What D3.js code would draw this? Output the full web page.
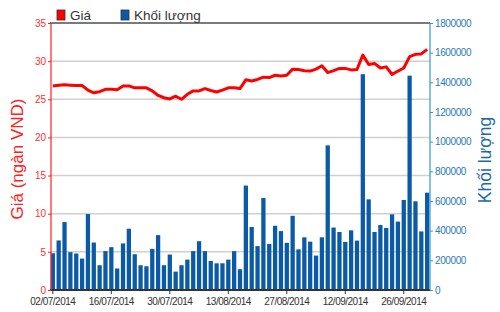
<!DOCTYPE html>
<html lang="vi">
<head>
<meta charset="utf-8">
<script src="https://cdn.jsdelivr.net/npm/d3@7"></script>
<style>
    body { margin: 0; background: #fff; }
    text { font-family: Arial, "Liberation Sans", sans-serif; }
</style>
</head>
<body>
<script>
    // trading days shown on the chart
    const dates = [
        "02/07/2014","03/07/2014","04/07/2014","07/07/2014","08/07/2014","09/07/2014","10/07/2014","11/07/2014","14/07/2014","15/07/2014",
        "16/07/2014","17/07/2014","18/07/2014","21/07/2014","22/07/2014","23/07/2014","24/07/2014","25/07/2014","28/07/2014","29/07/2014",
        "30/07/2014","31/07/2014","01/08/2014","04/08/2014","05/08/2014","06/08/2014","07/08/2014","08/08/2014","11/08/2014","12/08/2014",
        "13/08/2014","14/08/2014","15/08/2014","18/08/2014","19/08/2014","20/08/2014","21/08/2014","22/08/2014","25/08/2014","26/08/2014",
        "27/08/2014","28/08/2014","29/08/2014","03/09/2014","04/09/2014","05/09/2014","08/09/2014","09/09/2014","10/09/2014","11/09/2014",
        "12/09/2014","15/09/2014","16/09/2014","17/09/2014","18/09/2014","19/09/2014","22/09/2014","23/09/2014","24/09/2014","25/09/2014",
        "26/09/2014","29/09/2014","30/09/2014","01/10/2014","02/10/2014"
    ];

    // price, thousand VND
    const price = [
        26.75, 26.85, 26.9, 26.85, 26.8, 26.8, 26.2, 25.85, 26.0, 26.3,
        26.3, 26.25, 26.75, 26.75, 26.5, 26.5, 26.5, 26.1, 25.5, 25.2,
        25.05, 25.4, 25.0, 25.65, 26.1, 26.1, 26.4, 26.15, 25.95, 26.2,
        26.5, 26.5, 26.4, 27.55, 27.4, 27.6, 27.9, 27.85, 28.15, 28.05,
        28.15, 28.95, 28.9, 28.75, 28.7, 28.95, 29.4, 28.5, 28.75, 29.05,
        29.05, 28.85, 28.9, 30.8, 29.55, 29.7, 29.1, 29.25, 28.25, 28.7,
        29.1, 30.6, 30.9, 30.95, 31.55
    ];

    // traded volume
    const volume = [
        248000, 334000, 458000, 255000, 246000, 212000, 512000, 320000, 167000, 262000,
        289000, 145000, 314000, 413000, 241000, 167000, 160000, 277000, 370000, 167000,
        239000, 124000, 167000, 205000, 262000, 329000, 262000, 196000, 180000, 180000,
        205000, 262000, 140000, 704000, 425000, 296000, 620000, 310000, 433000, 397000,
        318000, 500000, 274000, 355000, 326000, 232000, 355000, 975000, 421000, 391000,
        324000, 402000, 333000, 1455000, 611000, 391000, 438000, 418000, 510000, 461000,
        607000, 1445000, 598000, 395000, 656000
    ];

    const priceTicks = [0, 5, 10, 15, 20, 25, 30, 35];
    const volumeTicks = [0, 200000, 400000, 600000, 800000, 1000000, 1200000, 1400000, 1600000, 1800000];
    const dateTicks = ["02/07/2014", "16/07/2014", "30/07/2014", "13/08/2014", "27/08/2014", "12/09/2014", "26/09/2014"];

    const w = 500, h = 312;
    const padL = 50, padR = 430, padT = 23, padB = 290;

    const svg = d3.select("body").append("svg")
        .attr("width", w)
        .attr("height", h);

    const x = d3.scaleBand().domain(dates).range([padL, padR]).paddingInner(0.27).paddingOuter(0.12);
    const yP = d3.scaleLinear().domain([0, 35]).range([padB, padT]);
    const yV = d3.scaleLinear().domain([0, 1800000]).range([padB, padT]);

    // grid
    svg.append("g")
        .selectAll("line")
        .data(priceTicks.filter(d => d > 0 && d < 35))
        .enter().append("line")
        .attr("x1", padL).attr("x2", padR)
        .attr("y1", d => yP(d)).attr("y2", d => yP(d))
        .attr("stroke", "#d0d0d0").attr("stroke-width", 1.5);

    // top border
    svg.append("line")
        .attr("x1", padL).attr("x2", padR)
        .attr("y1", padT).attr("y2", padT)
        .attr("stroke", "#7a7a7a").attr("stroke-width", 2);

    // volume bars
    svg.append("g")
        .selectAll("rect")
        .data(volume)
        .enter().append("rect")
        .attr("x", (d, i) => x(dates[i]))
        .attr("y", d => yV(d))
        .attr("width", x.bandwidth())
        .attr("height", d => padB - yV(d))
        .attr("fill", "#0a5aa8");

    // price line
    const line = d3.line()
        .x((d, i) => x(dates[i]) + x.bandwidth() / 2)
        .y(d => yP(d));

    svg.append("path")
        .datum(price)
        .attr("d", line)
        .attr("fill", "none")
        .attr("stroke", "#ff0000")
        .attr("stroke-width", 3)
        .attr("stroke-linejoin", "round");

    // x axis
    const xAxis = d3.axisBottom(x).tickValues(dateTicks).tickSize(4).tickPadding(4);
    const gx = svg.append("g")
        .attr("transform", "translate(0," + padB + ")")
        .call(xAxis);
    gx.select(".domain").attr("stroke", "#333").attr("stroke-width", 2).attr("d", "M" + padL + ",0H" + padR);
    gx.selectAll(".tick line").attr("stroke", "#333");
    gx.selectAll("text")
        .attr("fill", "#333")
        .style("font-size", "10px")
        .style("letter-spacing", "-0.5px");

    // left axis
    const gl = svg.append("g")
        .attr("transform", "translate(" + (padL + 1) + ",0)")
        .call(d3.axisLeft(yP).tickValues(priceTicks).tickSize(3).tickPadding(2));
    gl.select(".domain").attr("stroke", "#ff2020").attr("stroke-width", 1.2).attr("d", "M0," + padT + "V" + padB);
    gl.selectAll(".tick line").attr("stroke", "#ff2020");
    gl.selectAll("text").attr("fill", "#ff3030").style("font-size", "10px");

    // right axis
    const gr = svg.append("g")
        .attr("transform", "translate(" + padR + ",0)")
        .call(d3.axisRight(yV).tickValues(volumeTicks).tickFormat(d3.format("d")).tickSize(3).tickPadding(2));
    gr.select(".domain").attr("stroke", "#3a95c8").attr("stroke-width", 1.2).attr("d", "M0," + padT + "V" + padB);
    gr.selectAll(".tick line").attr("stroke", "#3a95c8");
    gr.selectAll("text")
        .attr("fill", "#2a7ab8")
        .style("font-size", "10px")
        .style("letter-spacing", "-0.4px");

    // axis titles
    svg.append("text")
        .attr("transform", "translate(23,159) rotate(-90)")
        .attr("text-anchor", "middle")
        .attr("fill", "#ff2020")
        .style("font-size", "17px")
        .text("Giá (ngàn VND)");

    svg.append("text")
        .attr("transform", "translate(491,160) rotate(-90)")
        .attr("text-anchor", "middle")
        .attr("fill", "#1a6aa8")
        .style("font-size", "17.5px")
        .text("Khối lượng");

    // legend
    const legend = [
        { name: "Giá", color: "#ff0000", x: 57 },
        { name: "Khối lượng", color: "#0a5aa8", x: 121 }
    ];
    const lg = svg.append("g").selectAll("g").data(legend).enter().append("g")
        .attr("transform", d => "translate(" + d.x + ",10)");
    lg.append("rect")
        .attr("width", 8).attr("height", 10)
        .attr("fill", d => d.color)
        .attr("stroke", "#333").attr("stroke-width", 0.8);
    lg.append("text")
        .attr("x", 13).attr("y", 10)
        .attr("fill", "#333")
        .style("font-size", "13.5px")
        .text(d => d.name);
</script>
</body>
</html>
